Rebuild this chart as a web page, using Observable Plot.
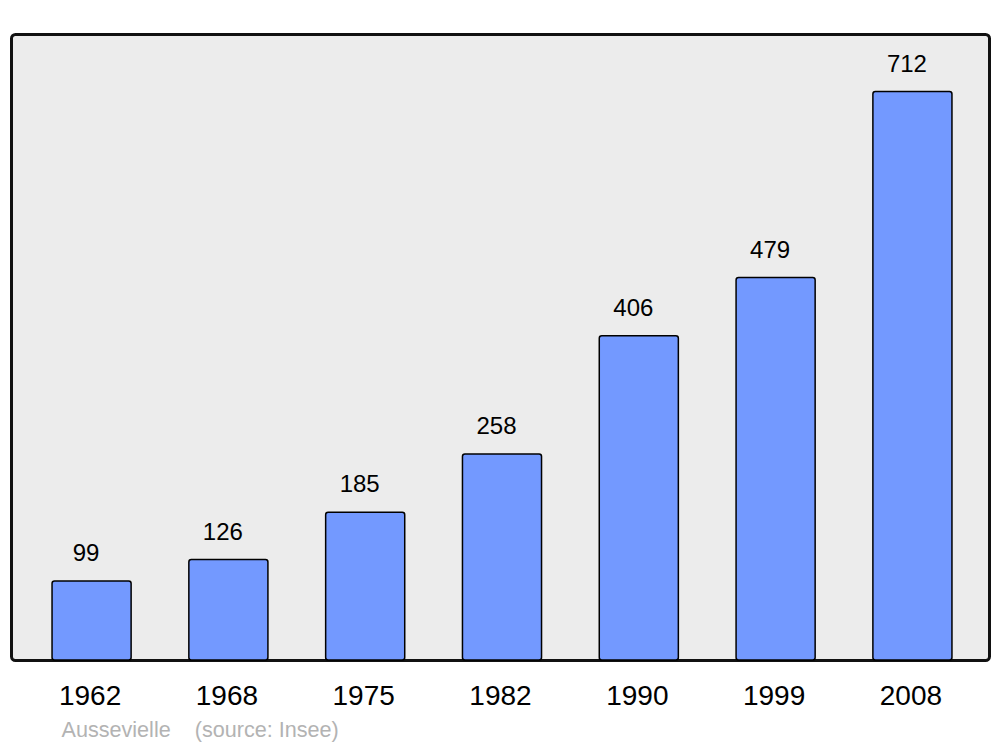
<!DOCTYPE html>
<html>
<head>
<meta charset="utf-8">
<script src="https://cdn.jsdelivr.net/npm/d3@7"></script>
<script src="https://cdn.jsdelivr.net/npm/@observablehq/plot@0.6"></script>
<style>
  html, body { margin: 0; padding: 0; background: #ffffff; }
  svg { font-family: "Liberation Sans", Arial, sans-serif; }
</style>
</head>
<body>
<div id="chart"></div>
<script>
const years = ["1962", "1968", "1975", "1982", "1990", "1999", "2008"];
const population = [99, 126, 185, 258, 406, 479, 712];
const captionText = "Aussevielle\u00a0\u00a0\u00a0\u00a0(source: Insee)";

const data = years.map((y, i) => ({year: y, pop: population[i]}));

const chart = Plot.plot({
  width: 1000,
  height: 747,
  marginTop: 34,
  marginBottom: 87,
  marginLeft: 11,
  marginRight: 11,
  style: {background: "#ffffff", fontFamily: "Liberation Sans, Arial, sans-serif"},
  x: {domain: years, range: [11, 993], paddingInner: 0.422, paddingOuter: 0.3, round: false, label: null},
  y: {domain: [0, 784], axis: null},
  marks: [
    Plot.frame({fill: "#ececec", stroke: "#111111", strokeWidth: 3, rx: 4}),
    Plot.barY(data, {x: "year", y: "pop", fill: "#7399ff", stroke: "#000000", strokeWidth: 1.5, rx: 2.5}),
    Plot.text(data, {x: "year", y: "pop", text: d => String(d.pop), dx: -6, dy: -28, lineAnchor: "middle", fontSize: 24, fill: "#000000"}),
    Plot.axisX({tickSize: 0, tickPadding: 25, fontSize: 28, dx: -2, color: "#000000", label: null}),
    Plot.text([captionText], {frameAnchor: "bottom-left", dx: 50, dy: 70, lineAnchor: "middle", textAnchor: "start", fontSize: 21.6, fill: "#b3b3b3"})
  ]
});
document.getElementById("chart").appendChild(chart);
</script>
</body>
</html>
